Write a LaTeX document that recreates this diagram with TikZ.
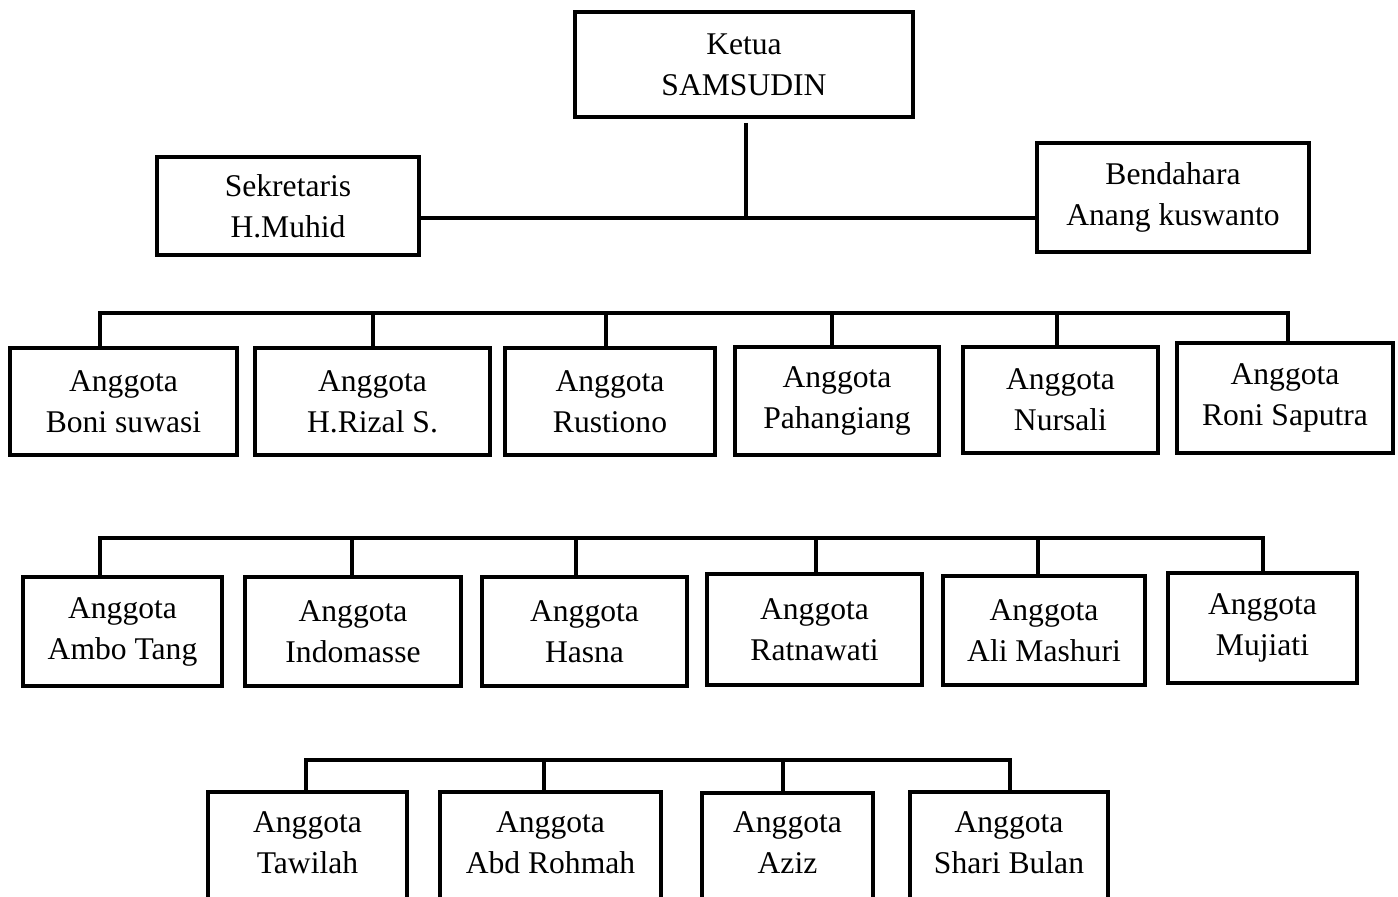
\documentclass[tikz,border=0pt]{standalone}
\usepackage{fontspec}
\setmainfont{Liberation Serif}
\begin{document}
\begin{tikzpicture}[x=0.5pt,y=-0.5pt,
  box/.style={draw, line width=2pt, align=center, inner sep=0pt,
    font=\fontsize{15.8}{20.5}\selectfont},
  txt/.style={align=center, inner sep=0pt, font=\fontsize{15.8}{20.5}\selectfont},
  conn/.style={line width=1.7pt, line join=miter}]
\useasboundingbox (0,0) rectangle (1398,897);
\clip (0,0) rectangle (1398,897);

% top level
\node[box, minimum width=169pt, minimum height=52.5pt] (k) at (744,64.5) {Ketua\\SAMSUDIN};
\node[box, minimum width=131pt, minimum height=49pt] (sek) at (288,206) {Sekretaris\\H.Muhid};
\node[box, minimum width=136pt, minimum height=54.5pt] (ben) at (1173,197.5) {Bendahara\\Anang kuswanto};
\coordinate (ktop) at (746,123);
\coordinate (j) at (746,218);
\draw[conn] (ktop) -- (j);
\draw[conn] (sek.east |- j) -- (ben.west |- j);

% row 1
\node[box, minimum width=113.5pt, minimum height=53.5pt] (b1) at (123.5,401.5) {Anggota\\Boni suwasi};
\node[box, minimum width=117.5pt, minimum height=53.5pt] (b2) at (372.5,401.5) {Anggota\\H.Rizal S.};
\node[box, minimum width=105pt, minimum height=53.5pt] (b3) at (610,401.5) {Anggota\\Rustiono};
\node[box, minimum width=102pt, minimum height=54pt] (b4) at (837,401) {Anggota\\Pahangiang};
\node[box, minimum width=97.5pt, minimum height=53pt] (b5) at (1060.5,400) {Anggota\\Nursali};
\node[box, minimum width=108pt, minimum height=55pt] (b6) at (1285,398) {Anggota\\Roni Saputra};
\coordinate (r1a) at (100,313);
\coordinate (r1b) at (373,313);
\coordinate (r1c) at (606,313);
\coordinate (r1d) at (832,313);
\coordinate (r1e) at (1057,313);
\coordinate (r1f) at (1288,313);
\draw[conn] (r1a |- b1.north) -- (r1a) -- (r1f) -- (r1f |- b6.north);
\draw[conn] (r1b) -- (r1b |- b2.north);
\draw[conn] (r1c) -- (r1c |- b3.north);
\draw[conn] (r1d) -- (r1d |- b4.north);
\draw[conn] (r1e) -- (r1e |- b5.north);

% row 2
\node[box, minimum width=99.5pt, minimum height=54.5pt] (c1) at (122.5,631.5) {Anggota\\Ambo Tang};
\node[box, minimum width=108pt, minimum height=54.5pt] (c2) at (353,631.5) {Anggota\\Indomasse};
\node[box, minimum width=102.5pt, minimum height=54.5pt] (c3) at (584.5,631.5) {Anggota\\Hasna};
\node[box, minimum width=107.5pt, minimum height=55.5pt] (c4) at (814.5,629.5) {Anggota\\Ratnawati};
\node[box, minimum width=101pt, minimum height=54.5pt] (c5) at (1044,630.5) {Anggota\\Ali Mashuri};
\node[box, minimum width=94.5pt, minimum height=55pt] (c6) at (1262.5,628) {Anggota\\Mujiati};
\coordinate (r2a) at (100,538);
\coordinate (r2b) at (352,538);
\coordinate (r2c) at (576,538);
\coordinate (r2d) at (816,538);
\coordinate (r2e) at (1038,538);
\coordinate (r2f) at (1263,538);
\draw[conn] (r2a |- c1.north) -- (r2a) -- (r2f) -- (r2f |- c6.north);
\draw[conn] (r2b) -- (r2b |- c2.north);
\draw[conn] (r2c) -- (r2c |- c3.north);
\draw[conn] (r2d) -- (r2d |- c4.north);
\draw[conn] (r2e) -- (r2e |- c5.north);

% row 3 (boxes run past the bottom edge)
\node[box, minimum width=99.5pt, minimum height=100pt, anchor=north] (d1) at (307.5,790) {};
\node[box, minimum width=110.5pt, minimum height=100pt, anchor=north] (d2) at (550.5,790) {};
\node[box, minimum width=85.5pt, minimum height=100pt, anchor=north] (d3) at (787.5,791) {};
\node[box, minimum width=99pt, minimum height=100pt, anchor=north] (d4) at (1009,790) {};
\node[txt] (d1t) at (307.5,843) {Anggota\\Tawilah};
\node[txt] (d2t) at (550.5,843) {Anggota\\Abd Rohmah};
\node[txt] (d3t) at (787.5,843) {Anggota\\Aziz};
\node[txt] (d4t) at (1009,843) {Anggota\\Shari Bulan};
\coordinate (r3a) at (306,760);
\coordinate (r3b) at (544,760);
\coordinate (r3c) at (783,760);
\coordinate (r3d) at (1010,760);
\draw[conn] (r3a |- d1.north) -- (r3a) -- (r3d) -- (r3d |- d4.north);
\draw[conn] (r3b) -- (r3b |- d2.north);
\draw[conn] (r3c) -- (r3c |- d3.north);
\end{tikzpicture}
\end{document}
